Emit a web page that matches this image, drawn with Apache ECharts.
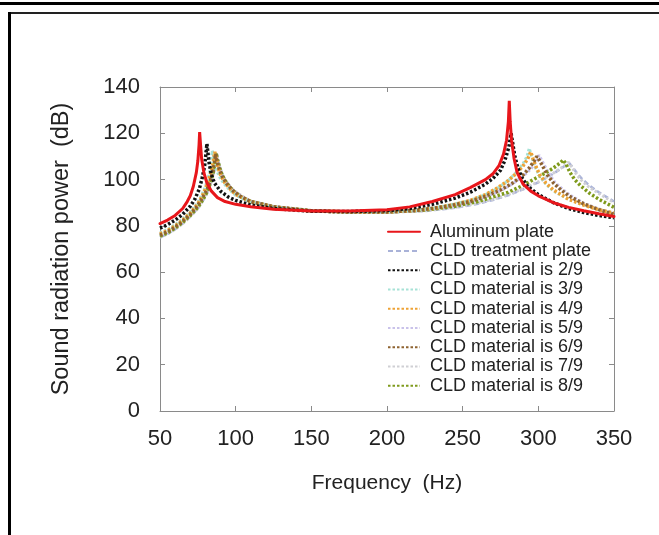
<!DOCTYPE html>
<html>
<head>
<meta charset="utf-8">
<script src="https://cdn.jsdelivr.net/npm/echarts@6/dist/echarts.min.js"></script>
<style>
html, body { margin: 0; padding: 0; background: #fff; }
#chart { width: 659px; height: 535px; }
</style>
</head>
<body>
<div id="chart"></div>
<script>
// values: [frequency Hz, power dB]
var aluminum = [[50,81],[55,82.5],[60,84.5],[65,87.5],[68,90.5],[70,93],[72,97],[74,103],[75,108],[75.8,115],[76.2,120.5],[76.8,115],[77.5,109],[79,103],[81,98.5],[84,95],[88,92.2],[93,90.5],[100,89.3],[110,88.3],[125,87.2],[150,86.4],[175,86.4],[200,87],[215,88.2],[230,90.5],[245,93.5],[255,96.5],[265,100],[270,102.5],[274,106],[277,111],[279,117],[280.2,125],[280.8,134],[281.4,125],[282.3,117],[284,109],[286,103],[290,98],[295,95],[300,93],[310,90],[320,88],[330,86.5],[340,85.2],[350,84]];
var treatment = [[50,75],[55,76.5],[60,78.5],[65,81],[70,84],[75,87.5],[78,90.5],[81,94],[83,97.5],[85,101.5],[86.7,106],[87.6,111],[88.6,108],[90,104.5],[92,101],[95,98],[99,95],[105,92.3],[110,90.6],[125,88.4],[150,86.6],[175,86],[200,85.8],[225,86.4],[245,87.8],[260,89.5],[270,91.2],[280,93.2],[290,95.8],[300,98.8],[308,101.8],[314,104.3],[318,106.2],[320.5,107],[322.5,105.5],[325.5,102.8],[329,100.2],[334,97.3],[340,94.5],[350,90.5]];
var cld29 = [[50,79],[55,80.5],[60,82.5],[65,85],[70,88.5],[73,91.5],[76,96],[78,101],[79.5,106],[80.5,112],[81,115.5],[81.6,112],[82.5,107],[84,102],[86,98.5],[90,95],[95,92.5],[100,91],[110,89],[125,87.5],[150,86.3],[175,86.2],[200,86.6],[215,87.5],[230,89.3],[245,92],[255,94.5],[265,98],[270,100.5],[275,104],[278,108.5],[280.5,114],[282,120],[283,116],[284.5,110],[286.5,105],[289,101],[293,97],[300,93.5],[310,90],[320,87.5],[330,85.8],[340,84.5],[350,83.5]];
var cld39 = [[50,77],[55,78.5],[60,80.5],[65,83],[70,86],[75,90],[78,94],[80,97],[82,101],[83.5,106],[84.5,112.5],[85.5,109.5],[87,105],[89,101.5],[92,98.5],[96,95.5],[100,93.2],[110,90.2],[125,88],[150,86.4],[175,86],[200,86],[215,86.5],[230,87.6],[245,89.5],[255,91],[265,93.5],[272,95.8],[280,99.5],[286,103.5],[290,107],[292.5,110],[294,113.5],[295.5,110],[297.5,106],[300,102.5],[305,98],[310,95],[320,91.5],[330,89],[340,87],[350,85.5]];
var cld49 = [[50,76.5],[55,78],[60,80],[65,82.5],[70,85.5],[75,89.5],[78,93],[80,96],[82,99.5],[84,104],[85.3,108],[86.2,112],[87.2,109],[88.5,105],[90,102],[93,98.5],[97,95.5],[100,93.6],[110,90.4],[125,88.1],[150,86.4],[175,86],[200,86],[215,86.5],[230,87.5],[245,89.3],[255,91],[265,93.5],[272,96],[280,99.5],[286,103],[290,106],[293,109],[295,112],[296.5,109],[298.5,105.5],[301,102],[305,98.5],[310,95.5],[320,91.5],[330,89],[340,87],[350,85.5]];
var cld59 = [[50,76],[55,77.5],[60,79.5],[65,82],[70,85],[75,89],[78,92.3],[81,96],[83,99.5],[85,104],[86,108],[86.8,111.5],[87.7,108.5],[89,105],[91,101.8],[94,98.5],[98,95.5],[103,93],[110,90.6],[125,88.3],[150,86.5],[175,86],[200,86],[220,86.6],[240,88.3],[255,90.3],[265,92.5],[275,95.2],[283,98.2],[290,101.5],[295,104.5],[298.5,107.8],[300.5,110.5],[302.5,108],[305,105],[307.5,102],[311,98.8],[316,95.8],[321,93.2],[330,89.8],[340,87.3],[350,85.3]];
var cld69 = [[50,76],[55,77.5],[60,79.5],[65,82],[70,85],[75,88.8],[78,92],[81,95.5],[83,99],[85,103.5],[86,107.5],[86.7,111],[87.6,108],[89,104.8],[91,101.5],[94,98.3],[98,95.3],[103,92.8],[110,90.5],[125,88.3],[150,86.5],[175,86],[200,86],[220,86.7],[240,88.5],[255,90.5],[265,92.8],[275,95.5],[283,98.5],[290,102],[294,105],[297,107.8],[299,110],[301,108],[303.5,105],[306,102],[310,98.5],[315,95.5],[320,93],[330,89.5],[340,87],[350,85]];
var cld79 = [[50,75],[55,76.5],[60,78.5],[65,81],[70,84],[75,87.5],[78,90.5],[81,94],[83,97.5],[85,101.5],[86.5,106],[87.5,111],[88.5,108],[90,104.5],[92,101],[95,98],[99,95.2],[105,92.5],[110,90.7],[125,88.4],[150,86.6],[175,86],[200,85.8],[225,86.5],[245,88],[260,89.8],[270,91.5],[280,93.5],[290,96],[300,99],[308,102],[314,104.5],[318,106.3],[320,107.5],[322,105.5],[325,102.5],[328,100],[333,97],[340,94],[350,90]];
var cld89 = [[50,75.5],[55,77],[60,79],[65,81.5],[70,84.5],[75,88],[78,91],[81,94.5],[83,98],[85,102.5],[86.2,107],[87,111.5],[88,108.5],[89.5,105],[91,102],[94,98.5],[98,95.3],[103,92.7],[110,90.5],[125,88.2],[150,86.5],[175,86],[200,86],[225,86.8],[245,88.5],[260,90.5],[270,92.5],[280,94.5],[290,97.5],[298,100.5],[305,103],[310,105],[314,107],[316.5,108.5],[318.5,106.5],[321,103],[324,100],[328,97.3],[334,94],[340,91.5],[350,88]];

var xTicks = [50, 350, 50];   // min, max, step
var yTicks = [0, 140, 20];

var names = ['Aluminum plate', 'CLD treatment plate', 'CLD material is 2/9', 'CLD material is 3/9',
	'CLD material is 4/9', 'CLD material is 5/9', 'CLD material is 6/9', 'CLD material is 7/9', 'CLD material is 8/9'];

var font = 'Liberation Sans, Arial, sans-serif';

var line = function (name, data, color, width, type, cap, z) {
	return {
		name: name,
		type: 'line',
		data: data,
		symbol: 'none',
		showSymbol: false,
		z: z || 2,
		lineStyle: { color: color, width: width, type: type, cap: cap || 'butt' },
		itemStyle: { color: color }
	};
};

var axisBase = function (pos, r, labels) {
	return {
		type: 'value',
		position: pos,
		min: r[0], max: r[1], interval: r[2],
		axisLine: { show: true, onZero: false, lineStyle: { color: '#8a8a8a', width: 1 } },
		axisTick: { show: true, inside: true, length: 5, lineStyle: { color: '#8a8a8a' } },
		axisLabel: { show: labels, fontSize: 22, color: '#222', fontFamily: font, margin: 16 },
		splitLine: { show: false }
	};
};

var xBottom = axisBase('bottom', xTicks, true);
xBottom.name = 'Frequency  (Hz)';
xBottom.nameLocation = 'middle';
xBottom.nameGap = 62;
xBottom.nameTextStyle = { fontSize: 21, color: '#222', fontFamily: font };
xBottom.axisLabel.margin = 17;

var yLeft = axisBase('left', yTicks, true);
yLeft.name = 'Sound radiation power  (dB)';
yLeft.nameLocation = 'middle';
yLeft.nameGap = 86;
yLeft.nameTextStyle = { fontSize: 23.5, color: '#222', fontFamily: font };
yLeft.axisLabel.margin = 20;

echarts.init(document.getElementById('chart'), null, { renderer: 'canvas' }).setOption({
	backgroundColor: '#fff',
	animation: false,
	grid: { left: 160, right: 45, top: 87, bottom: 124 },
	xAxis: [xBottom, axisBase('top', xTicks, false)],
	yAxis: [yLeft, axisBase('right', yTicks, false)],
	legend: {
		data: names,
		orient: 'vertical',
		left: 387,
		top: 222,
		padding: 0,
		itemGap: 0,
		itemWidth: 32,
		itemHeight: 10,
		itemStyle: { opacity: 0 },
		textStyle: { fontSize: 18, lineHeight: 19.25, color: '#222', fontFamily: font, padding: [0, 0, 0, 5] }
	},
	graphic: [
		{ type: 'rect', shape: { x: 0, y: 2, width: 659, height: 3 }, style: { fill: '#000' } },
		{ type: 'rect', shape: { x: 8, y: 12, width: 651, height: 2 }, style: { fill: '#222' } },
		{ type: 'rect', shape: { x: 8, y: 12, width: 3, height: 523 }, style: { fill: '#000' } }
	],
	series: [
		line(names[1], treatment, '#a9b2d8', 2.5, [5, 3]),
		line(names[7], cld79, '#cfcfd4', 3, [2.5, 2]),
		line(names[5], cld59, '#c9c2ea', 3, [2.5, 2]),
		line(names[8], cld89, '#7f9a1c', 3.5, [2.5, 2]),
		line(names[3], cld39, '#a6e2d6', 3, [2.5, 2]),
		line(names[4], cld49, '#eea235', 3.5, [2.5, 2]),
		line(names[6], cld69, '#8e6330', 3.5, [2.5, 2]),
		line(names[2], cld29, '#111111', 3.5, [2.5, 2]),
		line(names[0], aluminum, '#e8161b', 3, 'solid', 'round', 3)
	]
});
</script>
</body>
</html>
